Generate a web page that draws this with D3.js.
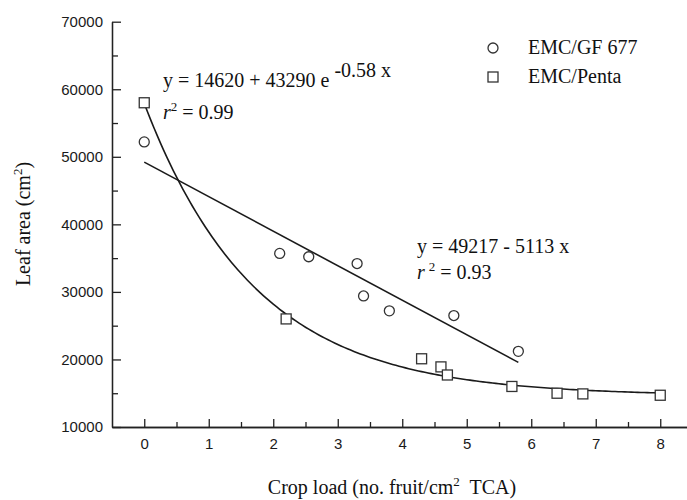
<!DOCTYPE html>
<html>
<head>
<meta charset="utf-8">
<script src="https://cdn.jsdelivr.net/npm/d3@7/dist/d3.min.js"></script>
<style>
  body { margin: 0; background: #fff; }
  .tick text { font-family: "Liberation Sans", Arial, sans-serif; font-size: 15px; fill: #1a1a1a; }
  .serif { font-family: "Liberation Serif", "Times New Roman", serif; fill: #111; }
</style>
</head>
<body>
<script>
// values
var gfLoad = [0, 2.1, 2.55, 3.3, 3.4, 3.8, 4.8, 5.8];
var gfArea = [52200, 35700, 35200, 34200, 29400, 27200, 26500, 21200];
var pentaLoad = [0, 2.2, 4.3, 4.6, 4.7, 5.7, 6.4, 6.8, 8];
var pentaArea = [58000, 26000, 20100, 18900, 17700, 16000, 15000, 14900, 14700];
var seriesNames = ["EMC/GF 677", "EMC/Penta"];
var xTicks = [0, 1, 2, 3, 4, 5, 6, 7, 8];
var xMinor = [0.5, 1.5, 2.5, 3.5, 4.5, 5.5, 6.5, 7.5];
var yTicks = [10000, 20000, 30000, 40000, 50000, 60000, 70000];
var yMinor = [15000, 25000, 35000, 45000, 55000, 65000];

// fitted curves, as printed on the chart
var expFit = [14620, 43290, -0.58];   // y = a + b e^(k x)
var linFit = [49217, -5113];          // y = a + b x
var linRange = [0, 5.8];

var width = 687, height = 500;

var svg = d3.select("body").append("svg")
    .attr("width", width)
    .attr("height", height);

var x = d3.scaleLinear().domain([-0.5, 8.5]).range([112, 692.5]);
var y = d3.scaleLinear().domain([10000, 70000]).range([427, 21.7]);

// minor ticks first, then the labelled axes on top
svg.append("g")
    .attr("transform", "translate(0," + y(10000) + ")")
    .call(d3.axisBottom(x).tickValues(xMinor).tickFormat("").tickSizeInner(-5).tickSizeOuter(0));
svg.append("g")
    .attr("transform", "translate(" + x(-0.5) + ",0)")
    .call(d3.axisLeft(y).tickValues(yMinor).tickFormat("").tickSizeInner(-6).tickSizeOuter(0));

var xAxis = svg.append("g")
    .attr("transform", "translate(0," + y(10000) + ")")
    .call(d3.axisBottom(x).tickValues(xTicks).tickFormat(d3.format("d"))
      .tickSizeInner(-8).tickSizeOuter(0).tickPadding(11));
var yAxis = svg.append("g")
    .attr("transform", "translate(" + x(-0.5) + ",0)")
    .call(d3.axisLeft(y).tickValues(yTicks).tickFormat(d3.format("d"))
      .tickSizeInner(-9).tickSizeOuter(0).tickPadding(9));

svg.selectAll(".domain, .tick line")
    .attr("stroke", "#222")
    .attr("stroke-width", 1.3);

// fitted lines
var line = d3.line().x(d => x(d[0])).y(d => y(d[1]));
var expPts = d3.range(0, 8.001, 0.05).map(v => [v, expFit[0] + expFit[1] * Math.exp(expFit[2] * v)]);
var linPts = linRange.map(v => [v, linFit[0] + linFit[1] * v]);

svg.append("path").datum(expPts).attr("d", line)
    .attr("fill", "none").attr("stroke", "#1a1a1a").attr("stroke-width", 1.6);
svg.append("path").datum(linPts).attr("d", line)
    .attr("fill", "none").attr("stroke", "#1a1a1a").attr("stroke-width", 1.6);

// points
svg.selectAll("circle.gf")
    .data(gfLoad)
    .enter().append("circle")
    .attr("class", "gf")
    .attr("cx", d => x(d))
    .attr("cy", (d, i) => y(gfArea[i]))
    .attr("r", 5)
    .attr("fill", "#fff").attr("stroke", "#333").attr("stroke-width", 1.3);

svg.selectAll("rect.penta")
    .data(pentaLoad)
    .enter().append("rect")
    .attr("class", "penta")
    .attr("x", d => x(d) - 5)
    .attr("y", (d, i) => y(pentaArea[i]) - 5)
    .attr("width", 10).attr("height", 10)
    .attr("fill", "#fff").attr("stroke", "#333").attr("stroke-width", 1.3);

// legend
var legend = svg.append("g").attr("class", "serif").style("font-size", "20px");
legend.append("circle").attr("cx", 493).attr("cy", 48).attr("r", 5)
    .attr("fill", "#fff").attr("stroke", "#333").attr("stroke-width", 1.3);
legend.append("rect").attr("x", 488).attr("y", 72).attr("width", 10).attr("height", 10)
    .attr("fill", "#fff").attr("stroke", "#333").attr("stroke-width", 1.3);
legend.append("text").attr("x", 528).attr("y", 54).text(seriesNames[0]);
legend.append("text").attr("x", 528).attr("y", 83).text(seriesNames[1]);

// equations
var eq = svg.append("g").attr("class", "serif").style("font-size", "20px");

var e1 = eq.append("text").attr("x", 163).attr("y", 87);
e1.append("tspan").text("y = " + expFit[0] + " + " + expFit[1] + " e");
e1.append("tspan").attr("dx", 5).attr("dy", -10).text(expFit[2] + " x");

var r1 = eq.append("text").attr("x", 163).attr("y", 119);
r1.append("tspan").style("font-style", "italic").text("r");
r1.append("tspan").attr("dy", -8).style("font-size", "13px").text("2");
r1.append("tspan").attr("dy", 8).text(" = 0.99");

var e2 = eq.append("text").attr("x", 417).attr("y", 253);
e2.text("y = " + linFit[0] + " - " + (-linFit[1]) + " x");

var r2 = eq.append("text").attr("x", 417).attr("y", 279);
r2.append("tspan").style("font-style", "italic").text("r");
r2.append("tspan").attr("dx", 4).attr("dy", -8).style("font-size", "13px").text("2");
r2.append("tspan").attr("dy", 8).text(" = 0.93");

// axis titles
var xt = svg.append("text").attr("class", "serif")
    .attr("x", 392).attr("y", 494)
    .attr("text-anchor", "middle")
    .style("font-size", "20px")
    .style("white-space", "pre");
xt.append("tspan").text("Crop load (no. fruit/cm");
xt.append("tspan").attr("dy", -8).style("font-size", "13px").text("2");
xt.append("tspan").attr("dy", 8).text("  TCA)");

var yt = svg.append("text").attr("class", "serif")
    .attr("transform", "translate(30," + 224 + ") rotate(-90)")
    .attr("text-anchor", "middle")
    .style("font-size", "20px");
yt.append("tspan").text("Leaf area (cm");
yt.append("tspan").attr("dy", -8).style("font-size", "13px").text("2");
yt.append("tspan").attr("dy", 8).text(")");
</script>
</body>
</html>
